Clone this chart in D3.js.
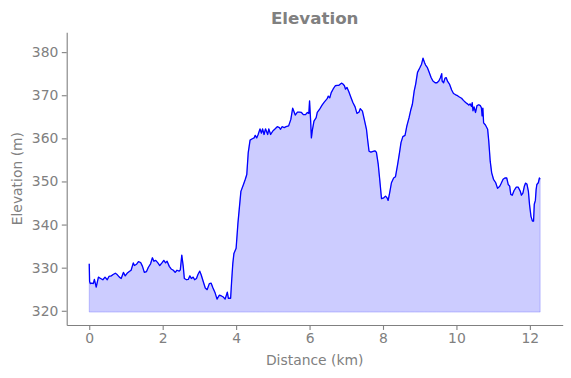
<!DOCTYPE html>
<html>
<head>
<meta charset="utf-8">
<script src="https://cdn.jsdelivr.net/npm/d3@7"></script>
<style>
  html, body { margin: 0; padding: 0; background: #fff; }
  svg { display: block; font-family: "DejaVu Sans", sans-serif; }
</style>
</head>
<body>
<svg id="chart" width="571" height="378"></svg>
<script>
const distanceKm = [
  0, 0.01, 0.03, 0.07, 0.11, 0.14, 0.19, 0.25, 0.31, 0.37, 0.43, 0.49, 0.54, 0.60, 0.65, 0.71, 0.76, 0.82, 0.87, 0.93, 0.98,
  1.03, 1.09, 1.14, 1.20, 1.23, 1.29, 1.34, 1.40, 1.45, 1.50, 1.56, 1.61, 1.67, 1.72, 1.76, 1.81, 1.87, 1.92, 1.98,
  2.03, 2.08, 2.12, 2.18, 2.23, 2.29, 2.34, 2.39, 2.45, 2.48, 2.52, 2.56, 2.59, 2.65, 2.70, 2.74, 2.78, 2.83, 2.87, 2.92, 2.96,
  3.01, 3.05, 3.10, 3.16, 3.21, 3.27, 3.32, 3.37, 3.43, 3.48, 3.54, 3.59, 3.65, 3.70, 3.76, 3.79, 3.85, 3.88, 3.91, 3.94, 4.00,
  4.05, 4.13, 4.20, 4.25, 4.29, 4.33, 4.38, 4.44, 4.49, 4.52, 4.56, 4.60, 4.65, 4.69, 4.72, 4.76, 4.80, 4.86, 4.89, 4.94,
  5.00, 5.05, 5.12, 5.18, 5.21, 5.25, 5.31, 5.36, 5.43, 5.49, 5.54, 5.58, 5.61, 5.67, 5.72, 5.78, 5.83, 5.89, 5.94, 5.98,
  6.00, 6.03, 6.05, 6.08, 6.12, 6.18, 6.21, 6.27, 6.34, 6.40, 6.48, 6.51, 6.55, 6.59, 6.64, 6.70, 6.75, 6.80, 6.84, 6.87, 6.91, 6.95, 6.98,
  7.02, 7.07, 7.13, 7.18, 7.24, 7.29, 7.35, 7.38, 7.44, 7.49, 7.55, 7.58, 7.62, 7.67, 7.73, 7.78, 7.82, 7.87, 7.91, 7.96,
  8.02, 8.07, 8.11, 8.14, 8.18, 8.23, 8.29, 8.34, 8.40, 8.45, 8.49, 8.54, 8.60, 8.65, 8.71, 8.76, 8.80, 8.85, 8.89, 8.94,
  9.00, 9.05, 9.09, 9.13, 9.16, 9.21, 9.25, 9.31, 9.36, 9.42, 9.47, 9.52, 9.56, 9.60, 9.61, 9.65, 9.69, 9.72, 9.76, 9.81, 9.87, 9.92, 9.98,
  10.03, 10.08, 10.14, 10.19, 10.25, 10.30, 10.34, 10.37, 10.41, 10.43, 10.45, 10.48, 10.52, 10.56, 10.61, 10.65, 10.68, 10.70, 10.72, 10.74, 10.79, 10.85, 10.88, 10.92, 10.96,
  11.01, 11.07, 11.12, 11.18, 11.21, 11.27, 11.32, 11.37, 11.41, 11.45, 11.48, 11.52, 11.57, 11.63, 11.68, 11.74, 11.77, 11.81, 11.85, 11.88, 11.92, 11.96, 11.99,
  12.03, 12.07, 12.10, 12.12, 12.15, 12.17, 12.19, 12.23, 12.26, 12.28
];
const elevationM = [
  330.9, 326.8, 326.3, 326.4, 326.3, 327.3, 325.5, 327.8, 327.5, 327.2, 327.8, 327.2, 328.0, 328.1, 328.4, 328.7, 328.4, 327.8, 327.5, 328.9, 328.1,
  328.7, 329.1, 329.4, 331.1, 330.5, 330.8, 331.4, 331.2, 330.3, 328.9, 329.1, 330.1, 330.9, 332.3, 331.5, 331.7, 331.1, 330.5, 331.1,
  331.7, 331.1, 331.5, 330.3, 329.7, 329.4, 328.9, 329.4, 329.2, 329.5, 332.9, 330.3, 327.5, 327.2, 327.3, 328.1, 327.5, 327.8, 327.2, 327.5, 328.4,
  329.2, 328.3, 326.9, 325.3, 324.9, 326.3, 326.4, 325.3, 324.1, 322.7, 323.6, 323.5, 323.2, 322.7, 324.3, 322.9, 322.9, 327.2, 331.0, 333.3, 334.5,
  340.4, 347.7, 349.3, 350.5, 351.6, 356.7, 359.6, 359.9, 360.1, 360.7, 360.1, 360.9, 362.2, 361.2, 362.2, 360.9, 362.2, 360.9, 362.2, 360.9,
  361.7, 362.1, 362.7, 362.5, 362.1, 362.7, 362.5, 362.7, 362.9, 364.4, 367.0, 366.1, 365.4, 366.1, 366.1, 366.0, 365.5, 365.5, 366.0, 365.8,
  368.7, 364.0, 360.1, 362.1, 364.0, 364.8, 366.0, 366.7, 367.7, 368.4, 369.2, 369.8, 369.4, 370.6, 371.4, 372.2, 372.3, 372.3, 372.6, 372.8, 372.6, 372.2, 371.4,
  371.8, 370.8, 369.4, 368.3, 367.3, 365.8, 366.1, 366.9, 366.3, 364.4, 362.1, 359.8, 357.0, 356.8, 357.0, 357.1, 356.8, 354.0, 350.5, 346.0,
  346.2, 346.6, 346.2, 345.6, 347.3, 349.7, 350.8, 351.1, 354.0, 356.7, 359.0, 360.4, 360.7, 362.9, 364.8, 366.7, 367.9, 371.0, 372.6, 375.3,
  376.3, 377.2, 378.6, 377.6, 377.0, 376.4, 375.5, 374.1, 373.3, 372.9, 372.9, 373.3, 374.0, 375.0, 373.3, 372.9, 374.0, 374.1, 373.2, 372.6, 371.2, 370.4, 370.1,
  369.9, 369.6, 369.3, 368.8, 368.3, 368.0, 367.7, 368.0, 367.4, 368.3, 366.4, 367.3, 366.0, 367.6, 367.8, 367.6, 367.1, 365.2, 367.0, 363.6, 363.1, 362.1, 359.4, 354.7, 352.0,
  350.5, 349.7, 348.4, 348.9, 349.4, 350.5, 350.8, 350.8, 349.3, 348.9, 347.0, 346.8, 347.9, 348.7, 348.7, 347.7, 346.8, 347.3, 348.9, 349.6, 349.4, 347.7, 344.7,
  341.9, 340.8, 340.8, 344.7, 345.6, 348.1, 349.3, 349.7, 350.8, 350.5
];
const xTicks = [0, 2, 4, 6, 8, 10, 12];
const yTicks = [320, 330, 340, 350, 360, 370, 380];
const titleText = "Elevation";
const xLabel = "Distance (km)";
const yLabel = "Elevation (m)";

const data = distanceKm.map((d, i) => ({ x: d, y: elevationM[i] }));

const W = 571, H = 378;
const mLeft = 66.7, mRight = 562.7, mTop = 32.3, mBottom = 325;
const gray = "#808080";

const xMin = d3.min(distanceKm), xMax = d3.max(distanceKm);
const xPad = (xMax - xMin) * 0.05;
const yMinV = d3.min(elevationM), yMaxV = d3.max(elevationM);
const base = yMinV - 3;

const x = d3.scaleLinear().domain([xMin - xPad, xMax + xPad]).range([mLeft, mRight]);
const y = d3.scaleLinear().domain([yMinV - 6, yMaxV + 6]).range([mBottom, mTop]);

const svg = d3.select("#chart");

svg.append("path")
  .datum(data)
  .attr("d", d3.area().x(d => x(d.x)).y0(y(base)).y1(d => y(d.y)))
  .attr("fill", "rgba(0,0,255,0.2)")
  .attr("stroke", "rgba(0,0,255,0.2)")
  .attr("stroke-width", 1);

svg.append("path")
  .datum(data)
  .attr("d", d3.line().x(d => x(d.x)).y(d => y(d.y)))
  .attr("fill", "none")
  .attr("stroke", "#0000ff")
  .attr("stroke-width", 1.3)
  .attr("stroke-linejoin", "round");

const xAxis = svg.append("g")
  .attr("transform", `translate(0,${mBottom})`)
  .call(d3.axisBottom(x).tickValues(xTicks).tickFormat(d3.format("d")).tickSize(4.9).tickPadding(3.5).tickSizeOuter(0));
const yAxis = svg.append("g")
  .attr("transform", `translate(${mLeft},0)`)
  .call(d3.axisLeft(y).tickValues(yTicks).tickFormat(d3.format("d")).tickSize(4.9).tickPadding(3.5).tickSizeOuter(0));

[xAxis, yAxis].forEach(g => {
  g.select(".domain").attr("stroke", gray).attr("stroke-width", 1.1);
  g.selectAll(".tick line").attr("stroke", gray).attr("stroke-width", 1.1);
  g.selectAll(".tick text").attr("fill", gray).style("font-size", "13.9px").style("font-family", "DejaVu Sans");
});

svg.append("text")
  .attr("x", (mLeft + mRight) / 2).attr("y", 24)
  .attr("text-anchor", "middle")
  .attr("fill", gray)
  .style("font-size", "16.7px").style("font-weight", "bold")
  .text(titleText);

svg.append("text")
  .attr("x", (mLeft + mRight) / 2).attr("y", 365)
  .attr("text-anchor", "middle")
  .attr("fill", gray)
  .style("font-size", "13.9px")
  .text(xLabel);

svg.append("text")
  .attr("transform", `translate(22,${(mTop + mBottom) / 2}) rotate(-90)`)
  .attr("text-anchor", "middle")
  .attr("fill", gray)
  .style("font-size", "13.9px")
  .text(yLabel);
</script>
</body>
</html>
